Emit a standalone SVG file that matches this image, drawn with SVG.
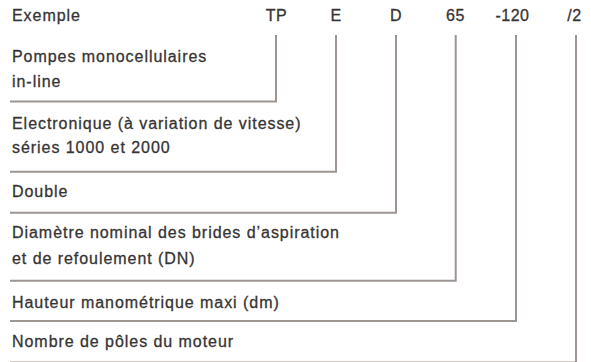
<svg xmlns="http://www.w3.org/2000/svg" width="591" height="362" viewBox="0 0 591 362">
<style>
text{font-family:"Liberation Sans",Arial,sans-serif;font-size:16px;fill:#363434;stroke:#363434;stroke-width:0.3px;letter-spacing:0.95px}
.h{text-anchor:middle;letter-spacing:0.5px}
.c{fill:none;stroke:#9c9592;stroke-width:2}
</style>
<rect width="591" height="362" fill="#ffffff"/>
<g id="header">
<text x="12" y="20.5">Exemple</text>
<text class="h" x="276.5" y="20.5">TP</text>
<text class="h" x="336" y="20.5">E</text>
<text class="h" x="396" y="20.5">D</text>
<text class="h" x="455.5" y="20.5">65</text>
<text class="h" x="512.5" y="20.5">-120</text>
<text class="h" x="574.5" y="20.5">/2</text>
</g>
<g id="connectors">
<polyline class="c" points="276,35 276,101.5 10,101.5"/>
<polyline class="c" points="336,35 336,171.7 10,171.7"/>
<polyline class="c" points="396,35 396,212.7 10,212.7"/>
<polyline class="c" points="455.7,35 455.7,280.7 10,280.7"/>
<polyline class="c" points="516,35 516,321 10,321"/>
<polyline class="c" points="576,35 576,362.5 10,362.5"/>
</g>
<g id="node-tp"><text x="12" y="61.5">Pompes monocellulaires</text><text x="12" y="86.5">in-line</text></g>
<g id="node-e"><text x="12" y="128.5">Electronique (à variation de vitesse)</text><text x="12" y="153">séries 1000 et 2000</text></g>
<g id="node-d"><text x="12" y="197">Double</text></g>
<g id="node-65"><text x="12" y="238">Diamètre nominal des brides d’aspiration</text><text x="12" y="263.5">et de refoulement (DN)</text></g>
<g id="node-120"><text x="12" y="308">Hauteur manométrique maxi (dm)</text></g>
<g id="node-2"><text x="12" y="347">Nombre de pôles du moteur</text></g>
</svg>
